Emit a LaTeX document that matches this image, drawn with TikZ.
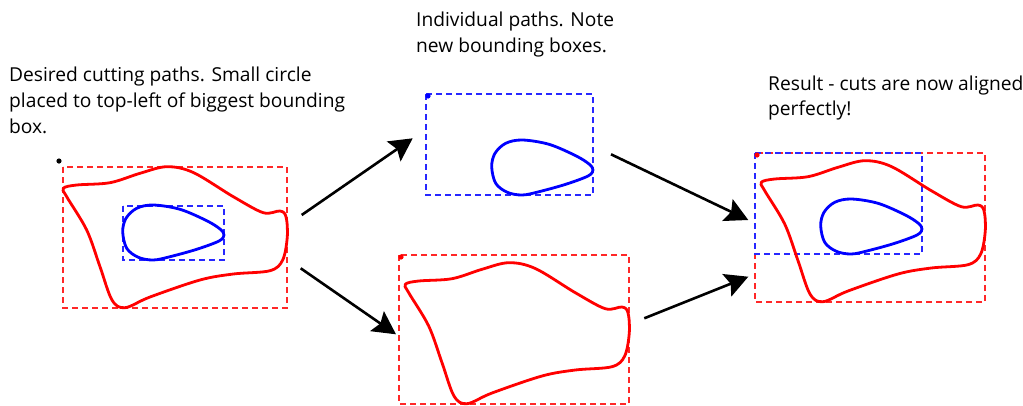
\documentclass[tikz,border=0pt]{standalone}
\usepackage{fontspec}
\setmainfont{Open Sans}
\usetikzlibrary{arrows.meta}
\definecolor{cred}{RGB}{255,0,0}
\definecolor{cblue}{RGB}{0,0,255}
\definecolor{dred}{RGB}{255,40,40}
\definecolor{dblue}{RGB}{40,40,255}
\begin{document}
\begin{tikzpicture}[x=1pt,y=-1pt,
  shapeline/.style={line width=2.8pt, line join=round},
  bbox/.style={line width=1.2pt, dash pattern=on 6pt off 4pt},
  flow/.style={line width=2.6pt, -{Stealth[length=23pt,width=24pt,inset=4pt]}},
  lbl/.style={anchor=base west, inner sep=0pt, font=\fontsize{19.2}{25.8}\selectfont},
  redshape/.pic={\draw[shapeline,cred] plot[smooth cycle, tension=0.55] coordinates {
    (63.3,188.3) (76.7,185) (110,182.7) (140,173.3) (166.7,166.7) (193.3,172.5)
    (233.3,196.7) (263.3,212.7) (280,211) (286,216.7) (287.3,236.7) (282.7,260)
    (270,270.7) (233.3,274) (200,280) (150,297) (125,307.7)
    (112,300) (100,266.7) (86.7,230) (66.7,196.7)};},
  blueshape/.pic={\draw[shapeline,cblue] plot[smooth cycle, tension=0.55] coordinates {
    (122.7,231.7) (126,218.3) (136.7,208.3) (153.3,205) (180,209.3) (206.7,220.7)
    (220,229) (224,235) (219,241) (196.7,249.3) (170,256.7) (153.3,260)
    (138.3,257.3) (126.7,248.3)};}
]
\useasboundingbox (0,0) rectangle (1023,405);

% texts
\node[lbl] (t1) at (9,81.7) {\vtop{\hbox{Desired cutting paths. Small circle}\hbox{placed to top-left of biggest bounding}\hbox{box.}}};
\node[lbl] (t2) at (416,26.7) {\vtop{\hbox{Individual paths. Note}\hbox{new bounding boxes.}}};
\node[lbl] (t3) at (768,90) {\vtop{\hbox{Result - cuts are now aligned}\hbox{perfectly!}}};

% panel 1
\begin{scope}
  \draw[bbox,dred] (63,167) rectangle (287,308);
  \draw[bbox,dblue] (123,206) rectangle (224,260);
  \pic {redshape};
  \pic {blueshape};
  \fill[black] (59,161) circle[radius=2.6pt];
\end{scope}

% panel 2 top
\begin{scope}[shift={(369,-65)}]
  \draw[bbox,dblue] (57,159) rectangle (224,260);
  \pic {blueshape};
  \fill[cblue] (59,161) circle[radius=2.6pt];
\end{scope}

% panel 2 bottom
\begin{scope}[shift={(342,96)}]
  \draw[bbox,dred] (57,159) rectangle (287,308);
  \pic {redshape};
  \fill[cred] (59,161) circle[radius=2.6pt];
\end{scope}

% panel 3
\begin{scope}[shift={(698,-6)}]
  \draw[bbox,dred] (57,159) rectangle (287,308);
  \draw[bbox,dblue] (57,159) rectangle (224,260);
  \pic {redshape};
  \pic {blueshape};
  \fill[cred] (59,161) circle[radius=2.6pt];
\end{scope}

% arrows
\coordinate (a1s) at (301.7,215);
\coordinate (a1e) at (412.7,138.3);
\coordinate (a2s) at (300.7,268.3);
\coordinate (a2e) at (396,334.3);
\coordinate (a3s) at (611,154.3);
\coordinate (a3e) at (748.3,220);
\coordinate (a4s) at (644.3,318.3);
\coordinate (a4e) at (748.3,276.7);
\draw[flow] (a1s) -- (a1e);
\draw[flow] (a2s) -- (a2e);
\draw[flow] (a3s) -- (a3e);
\draw[flow] (a4s) -- (a4e);
\end{tikzpicture}
\end{document}
